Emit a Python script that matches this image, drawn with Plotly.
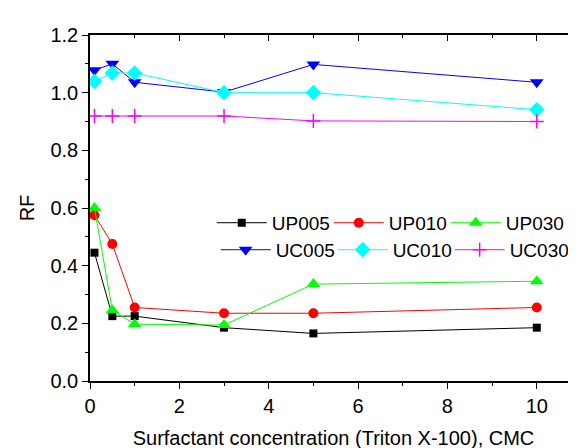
import plotly.graph_objects as go

x_cmc = [0.1, 0.5, 1, 3, 5, 10]
up005 = [0.445, 0.225, 0.225, 0.185, 0.165, 0.185]
up010 = [0.575, 0.475, 0.255, 0.235, 0.235, 0.255]
up030 = [0.60, 0.245, 0.197, 0.194, 0.336, 0.346]
uc005 = [1.078, 1.10, 1.036, 1.002, 1.098, 1.036]
uc010 = [1.039, 1.068, 1.068, 1.0, 1.0, 0.941]
uc030 = [0.919, 0.919, 0.919, 0.919, 0.902, 0.90]

series = [
    ("UP005", up005, "#000000", "square", 8, "legend"),
    ("UP010", up010, "#ff0000", "circle", 10, "legend"),
    ("UP030", up030, "#00ff00", "triangle-up", 12, "legend"),
    ("UC005", uc005, "#0000ff", "triangle-down", 12, "legend2"),
    ("UC010", uc010, "#00ffff", "diamond", 12, "legend2"),
    ("UC030", uc030, "#ff00ff", "cross-thin", 10, "legend2"),
]

fig = go.Figure()
for i, (name, ys, col, sym, sz, lg) in enumerate(series):
    mk = dict(symbol=sym, size=sz, color=col)
    if sym == "cross-thin":
        mk["line"] = dict(color=col, width=1.5)
    tr = dict(
        x=x_cmc, y=ys, name=name, mode="lines+markers", legend=lg,
        line=dict(color=col, width=1), marker=mk,
    )
    if i in (2, 5):
        tr["legendwidth"] = 62
    fig.add_trace(go.Scatter(**tr))

# invisible trace to create mirrored top/right axes with inward ticks
fig.add_trace(go.Scatter(x=[None], y=[None], xaxis="x2", yaxis="y2", showlegend=False))

XR = [0, 10.9]
YR = [0, 1.2]
fnt = dict(family="Liberation Sans, Arial, sans-serif", size=20, color="#000")
lfont = dict(family="Liberation Sans, Arial, sans-serif", size=19, color="#000")

leg_common = dict(
    orientation="h", xanchor="left", yanchor="middle",
    bgcolor="rgba(0,0,0,0)", font=lfont,
    entrywidth=52, entrywidthmode="pixels", itemwidth=50,
)

fig.update_layout(
    width=576, height=448,
    margin=dict(l=82, r=7, t=27, b=75),
    paper_bgcolor="white", plot_bgcolor="white",
    font=fnt,
    showlegend=True,
    legend=dict(x=0.25, y=0.457, **leg_common),
    legend2=dict(x=0.258, y=0.379, **leg_common),
    xaxis=dict(
        range=XR, dtick=2, tick0=0, showgrid=False, zeroline=False,
        showline=True, linecolor="#000", linewidth=1.5,
        ticks="outside", ticklen=6, tickwidth=1.2, tickcolor="#000",
        minor=dict(ticks="outside", ticklen=3, dtick=1, tickcolor="#000", tickwidth=1.2),
        title=dict(text="Surfactant concentration (Triton X-100), CMC", standoff=15, font=fnt),
        tickfont=fnt,
    ),
    yaxis=dict(
        range=YR, dtick=0.2, tick0=0, tickformat=".1f", showgrid=False, zeroline=False,
        showline=True, linecolor="#000", linewidth=1.5,
        ticks="outside", ticklen=6, tickwidth=1.2, tickcolor="#000",
        minor=dict(ticks="outside", ticklen=3, dtick=0.1, tickcolor="#000", tickwidth=1.2),
        title=dict(text="RF", standoff=10, font=fnt),
        tickfont=fnt,
    ),
    xaxis2=dict(
        overlaying="x", side="top", range=XR, dtick=2, tick0=0,
        showgrid=False, zeroline=False, showticklabels=False,
        showline=True, linecolor="#000", linewidth=1.5,
        ticks="inside", ticklen=6, tickwidth=1.2, tickcolor="#000",
        minor=dict(ticks="inside", ticklen=3, dtick=1, tickcolor="#000", tickwidth=1.2),
    ),
    yaxis2=dict(
        overlaying="y", side="right", range=YR, dtick=0.2, tick0=0,
        showgrid=False, zeroline=False, showticklabels=False,
        showline=True, linecolor="#000", linewidth=1.5,
        ticks="inside", ticklen=5, tickwidth=1.2, tickcolor="#000",
        minor=dict(ticks="inside", ticklen=3, dtick=0.1, tickcolor="#000", tickwidth=1.2),
    ),
)

fig.write_html("out.html")
